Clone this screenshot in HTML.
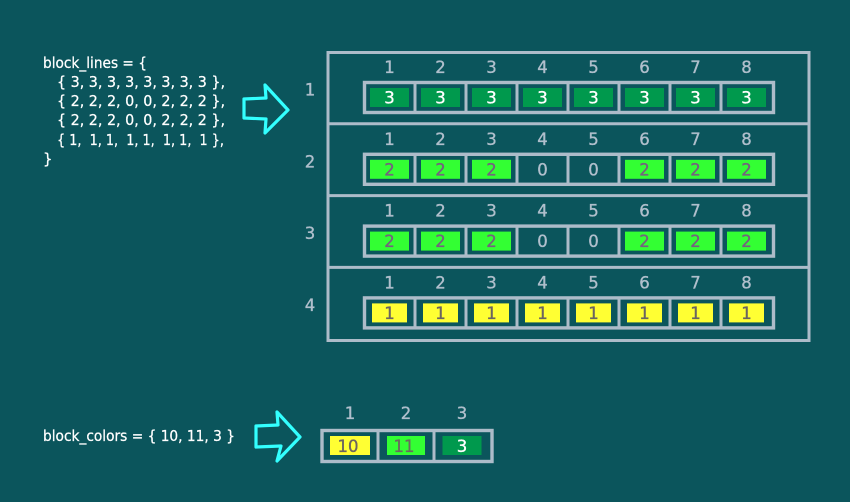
<!DOCTYPE html>
<html>
<head>
<meta charset="utf-8">
<title>block_lines and block_colors</title>
<style>
html,body{margin:0;padding:0;background:#0b555c;}
#stage{display:block;width:850px;height:502px;background:#0b555c;}
text{font-family:"DejaVu Sans","Liberation Sans",sans-serif;}
</style>
</head>
<body>
<svg id="stage" xmlns="http://www.w3.org/2000/svg" width="850" height="502" viewBox="0 0 850 502">
  <g fill="#ffffff" stroke="#ffffff" stroke-width="0.25" font-size="15">
    <text x="43" y="68" textLength="104" lengthAdjust="spacingAndGlyphs">block_lines = {</text>
    <text x="57" y="87" textLength="168" lengthAdjust="spacingAndGlyphs">{ 3, 3, 3, 3, 3, 3, 3, 3 },</text>
    <text x="57" y="106" textLength="168" lengthAdjust="spacingAndGlyphs">{ 2, 2, 2, 0, 0, 2, 2, 2 },</text>
    <text x="57" y="125" textLength="168" lengthAdjust="spacingAndGlyphs">{ 2, 2, 2, 0, 0, 2, 2, 2 },</text>
    <text x="57" y="145" textLength="167" lengthAdjust="spacingAndGlyphs">{ 1, &#160;1, 1, &#160;1, 1, &#160;1, 1, &#160;1 },</text>
    <text x="43" y="164">}</text>
  </g>
  <text x="43" y="441" fill="#ffffff" stroke="#ffffff" stroke-width="0.25" font-size="15" textLength="192" lengthAdjust="spacingAndGlyphs">block_colors = { 10, 11, 3 }</text>
  <polygon points="244,99 266,98 265,85 288,110 265,133 266,119 244,118" fill="none" stroke="#33ffff" stroke-width="3.2" stroke-linejoin="round"/>
  <polygon points="256,426 278,425 277,412 300,437 277,461 281,446 256,447" fill="none" stroke="#33ffff" stroke-width="3.2" stroke-linejoin="round"/>
  <g id="grid-layer"></g>
  <g id="colors-layer"></g>
</svg>
<script>
var blockLines = [
  [3, 3, 3, 3, 3, 3, 3, 3],
  [2, 2, 2, 0, 0, 2, 2, 2],
  [2, 2, 2, 0, 0, 2, 2, 2],
  [1, 1, 1, 1, 1, 1, 1, 1]
];
var blockColors = [10, 11, 3];
var fillByValue = { 3: "#00994d", 2: "#33ff33", 1: "#ffff33", 0: null, 10: "#ffff33", 11: "#33ff33" };
var inkByValue = { 3: "#ffffff", 2: "#75627f", 1: "#6b6460", 0: "#b0bfcc", 10: "#6b6460", 11: "#6b6a5f" };
var widthByValue = { 3: 39, 2: 39, 1: 35, 0: 0, 10: 40, 11: 38 };

var SVGNS = "http://www.w3.org/2000/svg";
var LINE = "#adbcc9";
var gridLayer = document.getElementById("grid-layer");
var colorsLayer = document.getElementById("colors-layer");

function make(parent, tag, attrs) {
  var node = document.createElementNS(SVGNS, tag);
  for (var k in attrs) node.setAttribute(k, attrs[k]);
  parent.appendChild(node);
  return node;
}
function digitAttrs(x, y, color) {
  return { x: x, y: y, "text-anchor": "middle", "font-size": 16.5, fill: color, stroke: color, "stroke-width": 0.35 };
}
function rowTop(r) { return 82 + r * 71.8; }
function cellX(c) { return 389.5 + c * 51; }
function smallCellX(c) { return 350 + c * 56; }

var outer = make(gridLayer, "rect", { x: 328, y: 52.5, width: 481, height: 288, fill: "none", stroke: LINE, "stroke-width": 3 });



blockLines.forEach(function (row, r) {
  var top = rowTop(r);
  if (r > 0) {
    var divider = make(gridLayer, "line", { x1: 328, x2: 809, y1: top - 30, y2: top - 30, stroke: LINE, "stroke-width": 3 });
    
    
  }
  var rowLabel = make(gridLayer, "text", digitAttrs(310, top + 13.5, "#b0bfcc"));
  rowLabel.textContent = String(r + 1);
  
  

  var box = make(gridLayer, "rect", { x: 364.5, y: top + 0.5, width: 409, height: 30, fill: "none", stroke: LINE, "stroke-width": 3.4 });
  
  

  row.forEach(function (value, c) {
    var cx = cellX(c);
    var idx = make(gridLayer, "text", digitAttrs(cx, top - 9, "#b0bfcc"));
    idx.textContent = String(c + 1);
    
    

    if (c > 0) {
      var sep = make(gridLayer, "line", { x1: cx - 25.5, x2: cx - 25.5, y1: top, y2: top + 31, stroke: LINE, "stroke-width": 3 });
      
      
    }
    if (fillByValue[value]) {
      var w = widthByValue[value];
      var fill = make(gridLayer, "rect", { x: cx - w / 2, y: top + 6, width: w, height: 19, fill: fillByValue[value] });
      
      
    }
    var label = make(gridLayer, "text", digitAttrs(cx, top + 21.5, inkByValue[value]));
    label.textContent = String(value);
    
    
  });
});

var colorBox = make(colorsLayer, "rect", { x: 322, y: 430.5, width: 170, height: 31, fill: "none", stroke: LINE, "stroke-width": 3.4 });



blockColors.forEach(function (value, c) {
  var cx = smallCellX(c);
  var idx = make(colorsLayer, "text", digitAttrs(cx, 419, "#b0bfcc"));
  idx.textContent = String(c + 1);
  
  

  if (c > 0) {
    var sep = make(colorsLayer, "line", { x1: cx - 28, x2: cx - 28, y1: 430, y2: 462, stroke: LINE, "stroke-width": 3 });
    
    
  }
  var w = widthByValue[value];
  var fill = make(colorsLayer, "rect", { x: cx - w / 2, y: 436, width: w, height: 19, fill: fillByValue[value] });
  
  

  var label = make(colorsLayer, "text", digitAttrs(cx - (c === 2 ? 0 : 2), 452, inkByValue[value]));
  label.textContent = String(value);
  
  
});
</script>
</body>
</html>
